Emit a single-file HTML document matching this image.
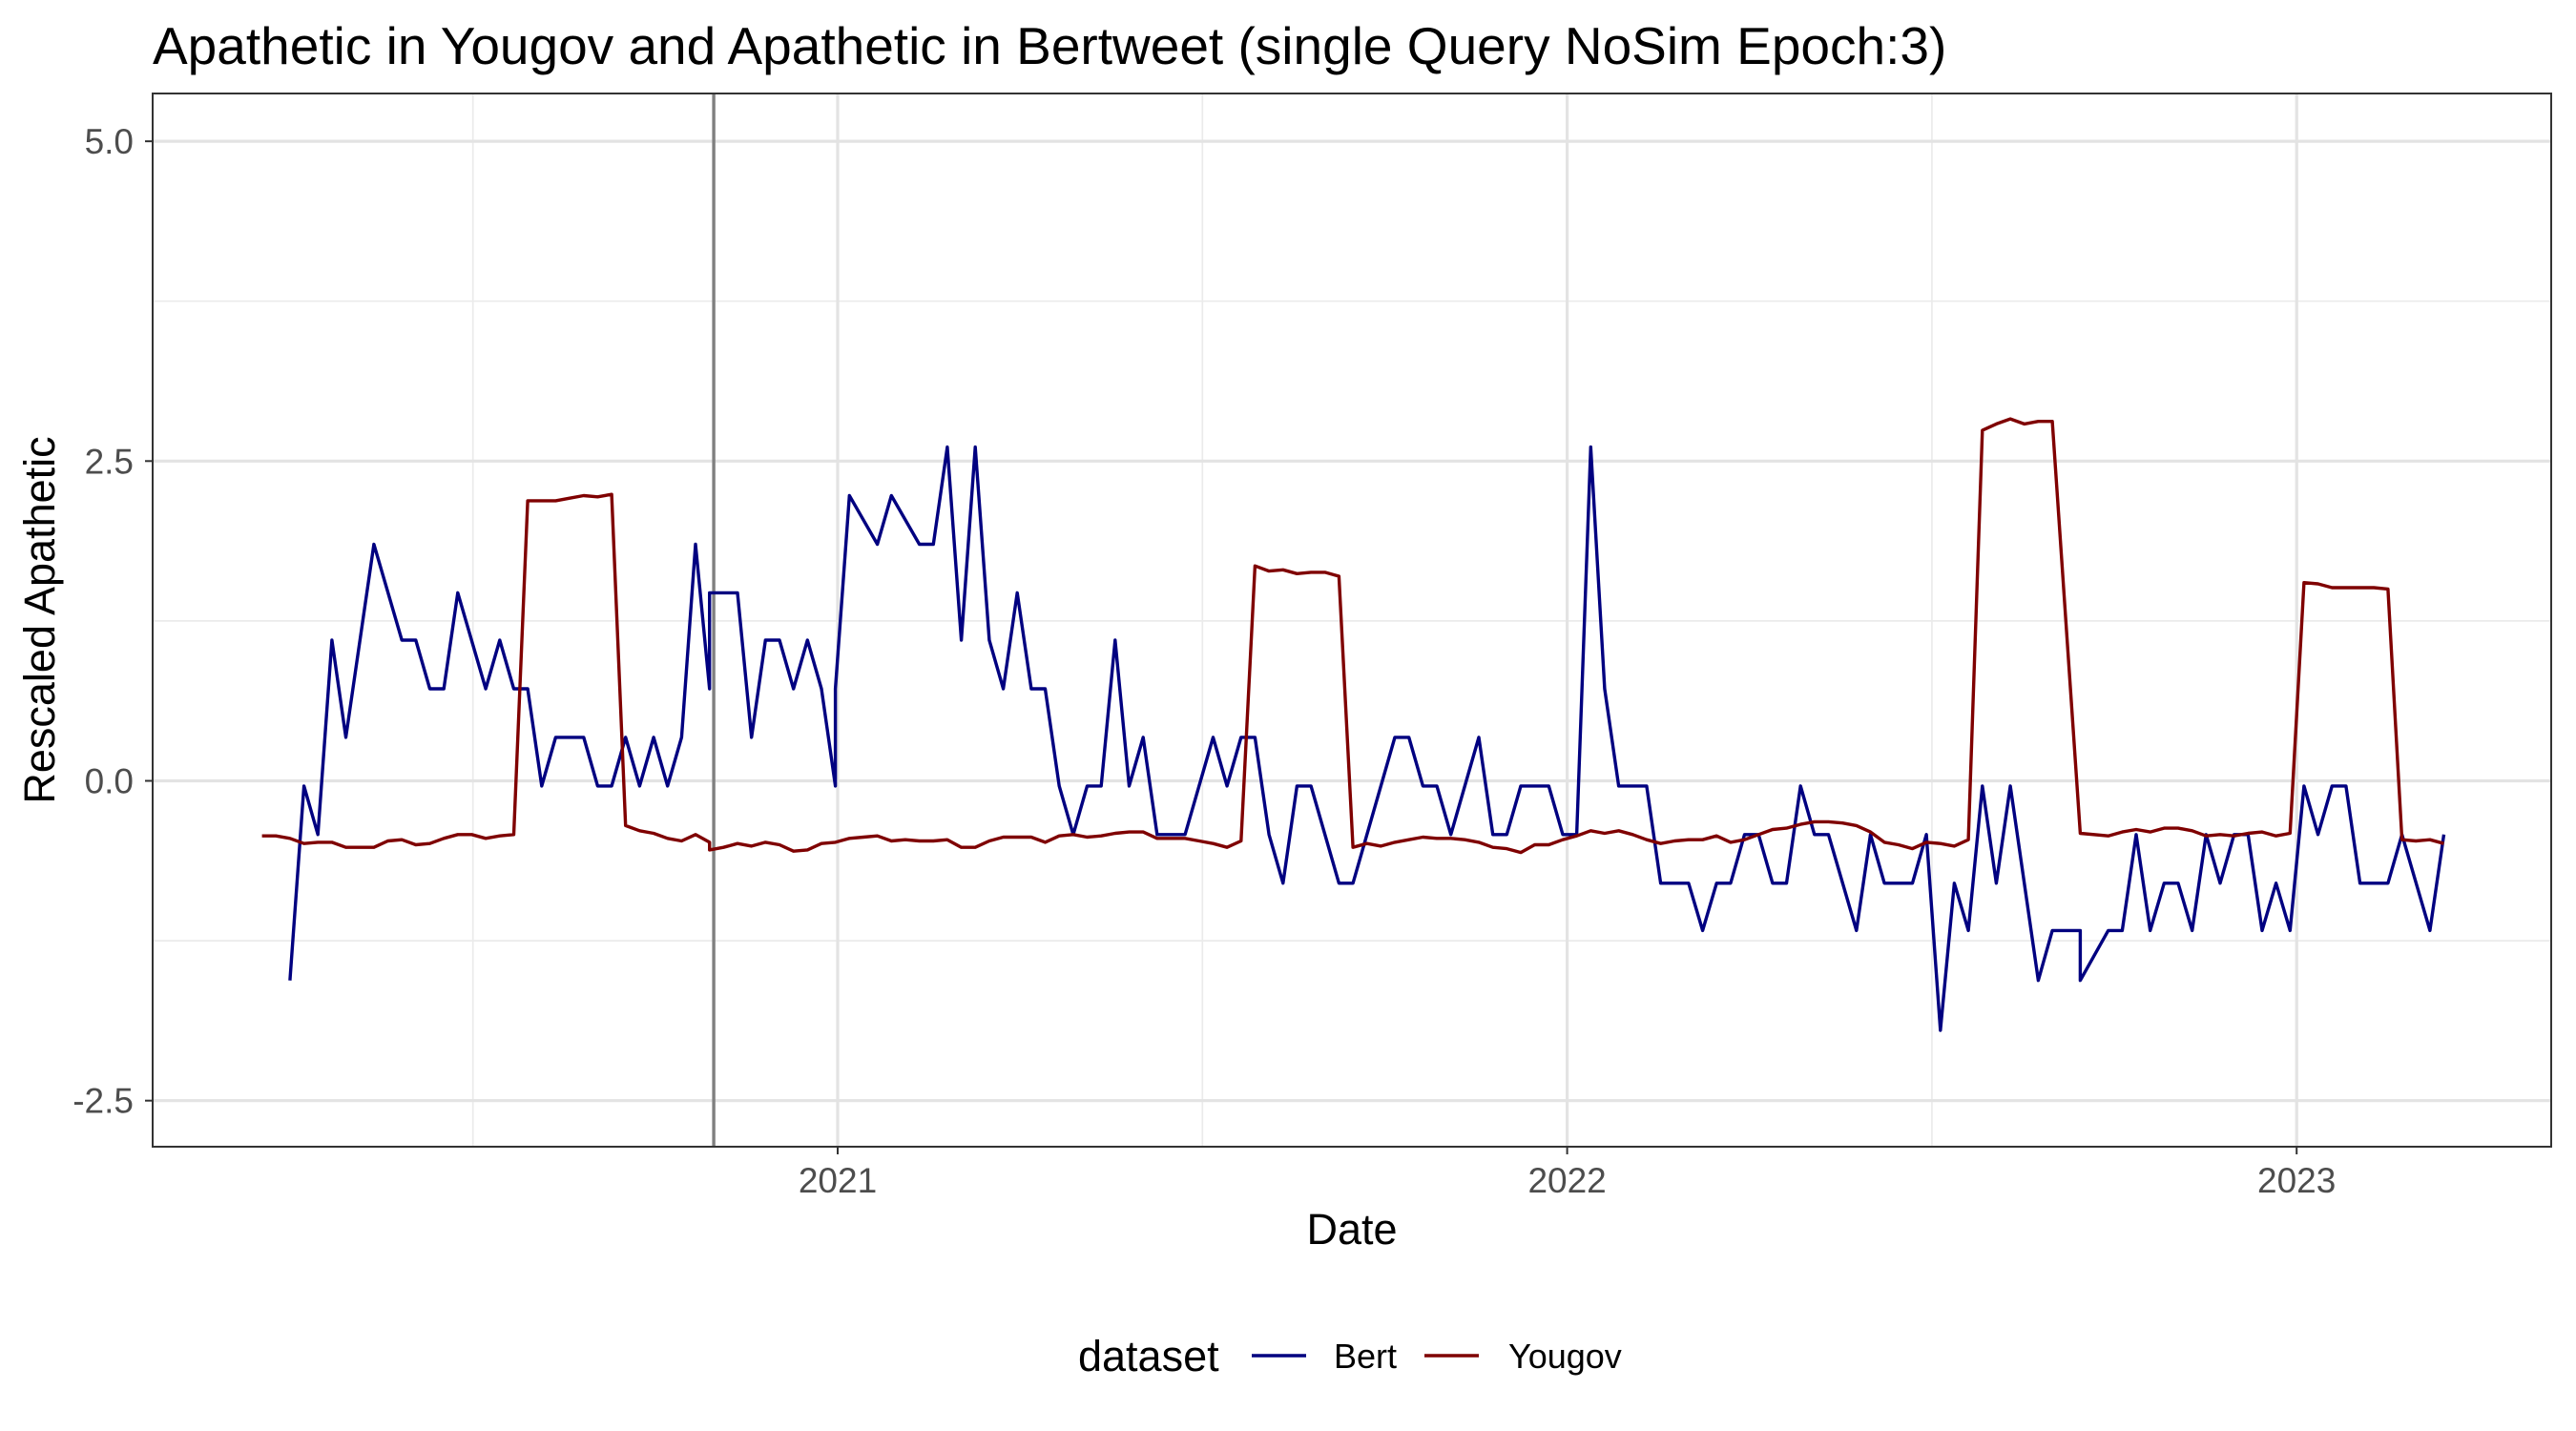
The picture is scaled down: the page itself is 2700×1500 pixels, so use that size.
<!DOCTYPE html>
<html><head><meta charset="utf-8"><title>Apathetic chart</title>
<style>
html,body{margin:0;padding:0;background:#fff;}
svg{display:block;font-family:"Liberation Sans",Arial,sans-serif;}
</style></head>
<body>
<svg id="chart" width="2700" height="1500" viewBox="0 0 2700 1500" xmlns="http://www.w3.org/2000/svg">
<rect x="0" y="0" width="2700" height="1500" fill="#fff"/>
<text x="160" y="67" font-size="55" fill="#000">Apathetic in Yougov and Apathetic in Bertweet (single Query NoSim Epoch:3)</text>
<g id="grid"></g>
<g id="series"></g>
<rect x="160" y="98" width="2514" height="1104" fill="none" stroke="#333" stroke-width="2"/>
<g id="axes"></g>
<text x="1417" y="1304" font-size="45" text-anchor="middle" fill="#000">Date</text>
<text x="0" y="0" font-size="45" text-anchor="middle" fill="#000" transform="translate(57,650) rotate(-90)">Rescaled  Apathetic</text>
<g>
<text x="1130" y="1437" font-size="45" fill="#000">dataset</text>
<line x1="1312" y1="1421" x2="1369" y2="1421" stroke="#000080" stroke-width="3.4"/>
<text x="1398" y="1434" font-size="36" fill="#000">Bert</text>
<line x1="1493" y1="1421" x2="1550" y2="1421" stroke="#7f0000" stroke-width="3.4"/>
<text x="1581" y="1434" font-size="36" fill="#000">Yougov</text>
</g>
</svg>
<script>
// week index 0 = first Bert observation; week 39 ≈ 2021-01-01
const bertWeeks = [0,1,2,3,4,6,8,9,10,11,12,14,15,16,17,18,19,21,22,23,24,25,26,27,28,29,30,30,32,33,34,35,36,37,38,39,39,40,42,43,45,46,47,48,49,50,51,52,53,54,55,56,57,58,59,60,61,62,64,66,67,68,69,70,71,72,73,75,76,79,80,81,82,83,85,86,87,88,90,91,92,93,94,95,97,98,100,101,102,103,104,105,106,107,108,109,110,112,113,114,116,117,118,119,120,121,122,123,125,126,128,128,130,131,132,133,134,135,136,137,138,139,140,141,142,143,144,145,146,147,148,150,151,153,154];
const bertValues = [-1.56,-0.04,-0.42,1.10,0.34,1.85,1.10,1.10,0.72,0.72,1.47,0.72,1.10,0.72,0.72,-0.04,0.34,0.34,-0.04,-0.04,0.34,-0.04,0.34,-0.04,0.34,1.85,0.72,1.47,1.47,0.34,1.10,1.10,0.72,1.10,0.72,-0.04,0.72,2.23,1.85,2.23,1.85,1.85,2.61,1.10,2.61,1.10,0.72,1.47,0.72,0.72,-0.04,-0.42,-0.04,-0.04,1.10,-0.04,0.34,-0.42,-0.42,0.34,-0.04,0.34,0.34,-0.42,-0.80,-0.04,-0.04,-0.80,-0.80,0.34,0.34,-0.04,-0.04,-0.42,0.34,-0.42,-0.42,-0.04,-0.04,-0.42,-0.42,2.61,0.72,-0.04,-0.04,-0.80,-0.80,-1.17,-0.80,-0.80,-0.42,-0.42,-0.80,-0.80,-0.04,-0.42,-0.42,-1.17,-0.42,-0.80,-0.80,-0.42,-1.95,-0.80,-1.17,-0.04,-0.80,-0.04,-1.56,-1.17,-1.17,-1.56,-1.17,-1.17,-0.42,-1.17,-0.80,-0.80,-1.17,-0.42,-0.80,-0.42,-0.42,-1.17,-0.80,-1.17,-0.04,-0.42,-0.04,-0.04,-0.80,-0.80,-0.42,-1.17,-0.42];
const yougovWeeks = [-2,-1,0,1,2,3,4,5,6,7,8,9,10,11,12,13,14,15,16,17,18,19,20,21,22,23,24,25,26,27,28,29,30,30,31,32,33,34,35,36,37,38,39,40,41,42,43,44,45,46,47,48,49,50,51,52,53,54,55,56,57,58,59,60,61,62,63,64,65,66,67,68,69,70,71,72,73,74,75,76,77,78,79,80,81,82,83,84,85,86,87,88,89,90,91,92,93,94,95,96,97,98,99,100,101,102,103,104,105,106,107,108,109,110,111,112,113,114,115,116,117,118,119,120,121,122,123,124,125,126,128,130,131,132,133,134,135,136,137,138,139,140,141,142,143,144,145,146,147,148,149,150,151,152,153,154];
const yougovValues = [-0.43,-0.43,-0.45,-0.49,-0.48,-0.48,-0.52,-0.52,-0.52,-0.47,-0.46,-0.50,-0.49,-0.45,-0.42,-0.42,-0.45,-0.43,-0.42,2.19,2.19,2.19,2.21,2.23,2.22,2.24,-0.35,-0.39,-0.41,-0.45,-0.47,-0.42,-0.48,-0.54,-0.52,-0.49,-0.51,-0.48,-0.50,-0.55,-0.54,-0.49,-0.48,-0.45,-0.44,-0.43,-0.47,-0.46,-0.47,-0.47,-0.46,-0.52,-0.52,-0.47,-0.44,-0.44,-0.44,-0.48,-0.43,-0.42,-0.44,-0.43,-0.41,-0.40,-0.40,-0.45,-0.45,-0.45,-0.47,-0.49,-0.52,-0.47,1.68,1.64,1.65,1.62,1.63,1.63,1.60,-0.52,-0.49,-0.51,-0.48,-0.46,-0.44,-0.45,-0.45,-0.46,-0.48,-0.52,-0.53,-0.56,-0.50,-0.50,-0.46,-0.43,-0.39,-0.41,-0.39,-0.42,-0.46,-0.49,-0.47,-0.46,-0.46,-0.43,-0.48,-0.46,-0.42,-0.38,-0.37,-0.34,-0.32,-0.32,-0.33,-0.35,-0.40,-0.48,-0.50,-0.53,-0.48,-0.49,-0.51,-0.46,2.74,2.79,2.83,2.79,2.81,2.81,-0.41,-0.43,-0.40,-0.38,-0.40,-0.37,-0.37,-0.39,-0.43,-0.42,-0.43,-0.41,-0.40,-0.43,-0.41,1.55,1.54,1.51,1.51,1.51,1.51,1.50,-0.46,-0.47,-0.46,-0.49];
const yMajorTicks = [-2.5, 0, 2.5, 5];
const yTickLabels = ["-2.5", "0.0", "2.5", "5.0"];
const yMinorTicks = [-1.25, 1.25, 3.75];
const xYears = [2021, 2022, 2023];
const xMinorYears = [2020.5, 2021.5, 2022.5];
const vlineWeek = [30.3];

const NS = "http://www.w3.org/2000/svg";
const PX0 = 160, PX1 = 2674, PY0 = 98, PY1 = 1202;
function yOf(v){ return 818.5 - v * 134.08; }
function xOfWeek(w){ return 303.9 + w * 14.66; }
function xOfYear(y){ return 878 + (y - 2021) * 764.6; }
function mk(tag, attrs, parent){ const e = document.createElementNS(NS, tag); for (const k in attrs) e.setAttribute(k, attrs[k]); parent.appendChild(e); return e; }

const grid = document.getElementById('grid');
const axes = document.getElementById('axes');
const series = document.getElementById('series');

yMinorTicks.forEach(v => {
  const l = mk('line', {x1:PX0, x2:PX1, y1:yOf(v), y2:yOf(v), stroke:'#ebebeb', 'stroke-width':1.7}, grid);
  
  
});
xMinorYears.forEach(y => {
  const l = mk('line', {x1:xOfYear(y), x2:xOfYear(y), y1:PY0, y2:PY1, stroke:'#ebebeb', 'stroke-width':1.7}, grid);
  
  
});
yMajorTicks.forEach((v, i) => {
  const l = mk('line', {x1:PX0, x2:PX1, y1:yOf(v), y2:yOf(v), stroke:'#e3e3e3', 'stroke-width':3.2}, grid);
  
  
  const t = mk('line', {x1:PX0 - 8, x2:PX0, y1:yOf(v), y2:yOf(v), stroke:'#333', 'stroke-width':2}, axes);
  
  
  const tx = mk('text', {x:PX0 - 20, y:yOf(v) + 13, 'font-size':37, 'text-anchor':'end', fill:'#4d4d4d'}, axes);
  tx.textContent = yTickLabels[i];
  
  
});
xYears.forEach(y => {
  const x = xOfYear(y);
  const l = mk('line', {x1:x, x2:x, y1:PY0, y2:PY1, stroke:'#e3e3e3', 'stroke-width':3.2}, grid);
  
  
  const t = mk('line', {x1:x, x2:x, y1:PY1, y2:PY1 + 8, stroke:'#333', 'stroke-width':2}, axes);
  
  
  const tx = mk('text', {x:x, y:PY1 + 48, 'font-size':37, 'text-anchor':'middle', fill:'#4d4d4d'}, axes);
  tx.textContent = String(y);
  
  
});
vlineWeek.forEach(w => {
  const l = mk('line', {x1:xOfWeek(w), x2:xOfWeek(w), y1:PY0, y2:PY1, stroke:'#808080', 'stroke-width':3.4}, series);
  
  
});
function drawLine(weeks, vals, color, name){
  const pts = weeks.map((w, i) => xOfWeek(w).toFixed(1) + ',' + yOf(vals[i]).toFixed(1)).join(' ');
  const p = mk('polyline', {points:pts, fill:'none', stroke:color, 'stroke-width':3.4, 'stroke-linejoin':'round'}, series);
  
  
}
drawLine(bertWeeks, bertValues, '#000080', 'bert-line');
drawLine(yougovWeeks, yougovValues, '#7f0000', 'yougov-line');
</script>
</body></html>
